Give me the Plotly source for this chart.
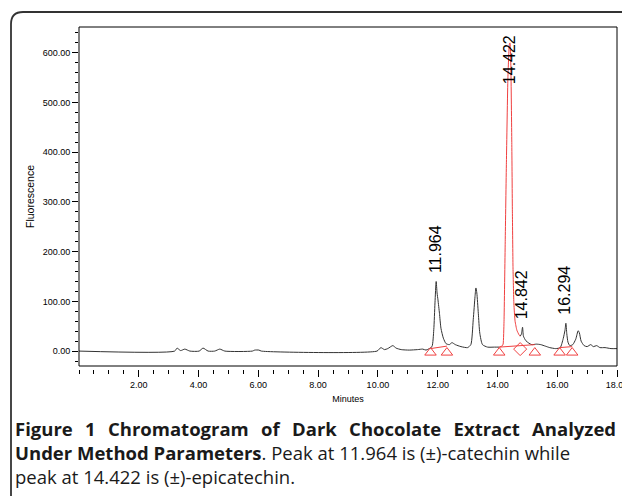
import plotly.graph_objects as go

# ---------------- data ----------------
time_min = [0.00, 3.20, 3.28, 3.40, 3.54, 3.71, 4.02, 4.15, 4.32, 4.54, 4.71, 4.88,
            5.80, 5.88, 6.02, 6.10, 9.97, 10.10, 10.22, 10.33, 10.50, 10.61, 10.78,
            11.05, 11.33, 11.50, 11.61, 11.72, 11.81, 11.87, 11.91, 11.95, 11.98,
            12.01, 12.06, 12.11, 12.19, 12.28, 12.39, 12.48, 12.59, 12.78, 13.00,
            13.11, 13.19, 13.25, 13.28, 13.31, 13.36, 13.41, 13.50, 13.67, 13.90,
            14.06, 14.15, 14.19, 14.22, 14.26, 14.30, 14.35, 14.40, 14.42, 14.45,
            14.48, 14.50, 14.52, 14.55, 14.59, 14.65, 14.72, 14.76, 14.80, 14.84,
            14.87, 14.95, 15.05, 15.15, 15.30, 15.45, 15.60, 15.75, 15.95, 16.10,
            16.20, 16.26, 16.29, 16.32, 16.36, 16.42, 16.52, 16.62, 16.70, 16.74,
            16.80, 16.90, 17.00, 17.12, 17.21, 17.32, 17.43, 17.60, 17.80, 18.00]
fluorescence = [0, 0, 6, 1, 4, 0, 0, 6, 0, 0, 4, 0,
                0, 2, 2, 0, 0, 7, 3, 5, 11, 6, 3,
                2, 3, 4, 2, 5, 9, 43, 97, 140, 117,
                103, 76, 46, 26, 15, 13, 17, 13, 9, 7,
                13, 63, 110, 127, 117, 76, 36, 13, 8, 8,
                8, 10, 14, 60, 220, 380, 550, 618, 620, 570,
                420, 280, 170, 95, 60, 42, 33, 30, 34, 48,
                30, 21, 16, 13, 14, 13, 10, 7, 5, 7,
                25, 42, 56, 35, 18, 11, 13, 24, 41, 37,
                20, 11, 9, 13, 9, 11, 7, 7, 5, 5]

# integrated main peak (drawn in red)
main_peak_start = 14.06
main_peak_end = 14.76

# integration baselines (red)
baseline_x = [11.76, 12.31, None, 14.06, 14.76, 15.25, None, 16.08, 16.50]
baseline_y = [5, 10, None, 8, 11, 13, None, 7, 9]

# peak start/end markers
tri_x = [11.76, 12.31, 14.06, 15.25, 16.08, 16.50]
tri_y = [-3, -3, -3, -3, -3, -3]
dia_x = [14.76]
dia_y = [4]

# peak labels
label_times = [11.964, 14.422, 14.842, 16.294]
label_text = ["11.964", "14.422", "14.842", "16.294"]
label_heights = [140, 620, 48, 56]
label_cap = 520

x_ticks = [2, 4, 6, 8, 10, 12, 14, 16, 18]
x_ticktext = ["2.00", "4.00", "6.00", "8.00", "10.00", "12.00", "14.00", "16.00", "18.00"]

# first caption line is justified in the reference: widen its word gaps
GAP = "\u2002\u2009"
caption_1_words = ["Figure", "1", "Chromatogram", "of", "Dark", "Chocolate", "Extract", "Analyzed"]
caption_1 = "<b>" + GAP.join(caption_1_words) + "</b>"
caption_2 = "<b>Under Method Parameters</b>. Peak at 11.964 is (±)-catechin while"
caption_3 = "peak at 14.422 is (±)-epicatechin."

# ---------------- layout geometry ----------------
W, H = 622, 496
ML, MR, MT, MB = 79, 5, 27, 127
PW = W - ML - MR
PH = H - MT - MB
frame_bottom_px = 366


def px_x(px):
    return (px - ML) / PW


def px_y(py):
    return (H - MB - py) / PH


RED = "#f04040"
TICKFONT = dict(family="Liberation Sans, Arial, sans-serif", size=9, color="black")

fig = go.Figure()

# black trace everywhere except inside the integrated main peak
black_v = [None if main_peak_start < t < main_peak_end else v
           for t, v in zip(time_min, fluorescence)]
fig.add_trace(go.Scatter(x=time_min, y=black_v, mode="lines",
                         line=dict(color="#333333", width=1, shape="spline", smoothing=0.6),
                         hoverinfo="skip", showlegend=False))

seg_t = [t for t in time_min if main_peak_start <= t <= main_peak_end]
seg_v = [v for t, v in zip(time_min, fluorescence) if main_peak_start <= t <= main_peak_end]
fig.add_trace(go.Scatter(x=seg_t, y=seg_v, mode="lines",
                         line=dict(color=RED, width=1, shape="spline", smoothing=0.4),
                         hoverinfo="skip", showlegend=False))

fig.add_trace(go.Scatter(x=baseline_x, y=baseline_y, mode="lines",
                         line=dict(color=RED, width=1), hoverinfo="skip", showlegend=False))

fig.add_trace(go.Scatter(x=tri_x, y=tri_y, mode="markers",
                         marker=dict(symbol="triangle-up-open", size=10, color=RED,
                                     line=dict(width=1, color=RED)),
                         hoverinfo="skip", showlegend=False))
fig.add_trace(go.Scatter(x=dia_x, y=dia_y, mode="markers",
                         marker=dict(symbol="diamond-open", size=10, color=RED,
                                     line=dict(width=1, color=RED)),
                         hoverinfo="skip", showlegend=False))

for t, txt, h in zip(label_times, label_text, label_heights):
    fig.add_annotation(x=t, y=min(h, label_cap), xref="x", yref="y", text=txt,
                       textangle=-90, showarrow=False, xanchor="center", yanchor="bottom",
                       yshift=6, xshift=-1,
                       font=dict(family="Liberation Sans, Arial, sans-serif", size=16, color="black"))

y_dom0 = (PH - (frame_bottom_px - MT)) / PH

# frame around the plotting area
fig.add_shape(type="rect", xref="paper", yref="paper", x0=0, x1=1, y0=y_dom0, y1=1,
              line=dict(color="black", width=1), layer="above")

# outer rounded box of the figure panel
bx0, by0, rad = 11, 12, 12
x0p, y0p = px_x(bx0), px_y(by0)
xr, yr = px_x(bx0 + rad), px_y(by0 + rad)
path = (f"M {x0p},{px_y(H + 20)} L {x0p},{yr} Q {x0p},{y0p} {xr},{y0p} "
        f"L {px_x(W + 20)},{y0p}")
fig.add_shape(type="path", xref="paper", yref="paper", path=path,
              line=dict(color="#333333", width=1.8))

cap_font = dict(family="Open Sans, sans-serif", size=18.5, color="#1a1a1a")
for txt, cy in [(caption_1, 428), (caption_2, 452), (caption_3, 476)]:
    fig.add_annotation(x=px_x(13), y=px_y(cy), xref="paper", yref="paper", text=txt,
                       showarrow=False, xanchor="left", yanchor="middle", align="left",
                       font=cap_font)

fig.update_layout(
    width=W, height=H,
    margin=dict(l=ML, r=MR, t=MT, b=MB, pad=0),
    paper_bgcolor="white", plot_bgcolor="white",
    showlegend=False,
    xaxis=dict(range=[0, 18], anchor="free", position=0, showline=False, showgrid=False,
               zeroline=False, tickmode="array", tickvals=x_ticks, ticktext=x_ticktext,
               ticks="outside", ticklen=7, tickwidth=1, tickcolor="black",
               ticklabeloverflow="allow",
               minor=dict(tick0=0, dtick=0.5, ticks="outside", ticklen=4, tickwidth=1,
                          tickcolor="black", showgrid=False),
               tickfont=TICKFONT, automargin=False,
               title=dict(text="Minutes", standoff=6,
                          font=dict(family="Liberation Sans, Arial, sans-serif", size=9,
                                    color="black"))),
    yaxis=dict(range=[-30, 652], domain=[y_dom0, 1], anchor="x", showline=False,
               showgrid=False, zeroline=False, tickmode="linear", tick0=0, dtick=100,
               tickformat=".2f", ticks="outside", ticklen=6, tickwidth=1, tickcolor="black",
               minor=dict(tick0=0, dtick=20, ticks="outside", ticklen=3, tickwidth=1,
                          tickcolor="black", showgrid=False),
               tickfont=TICKFONT, automargin=False,
               title=dict(text="Fluorescence", standoff=5,
                          font=dict(family="Liberation Sans, Arial, sans-serif", size=10.5,
                                    color="black"))),
)

fig.write_html("out.html", config={"displayModeBar": False},
               post_script="document.body.style.margin='0';document.body.style.padding='0';")
